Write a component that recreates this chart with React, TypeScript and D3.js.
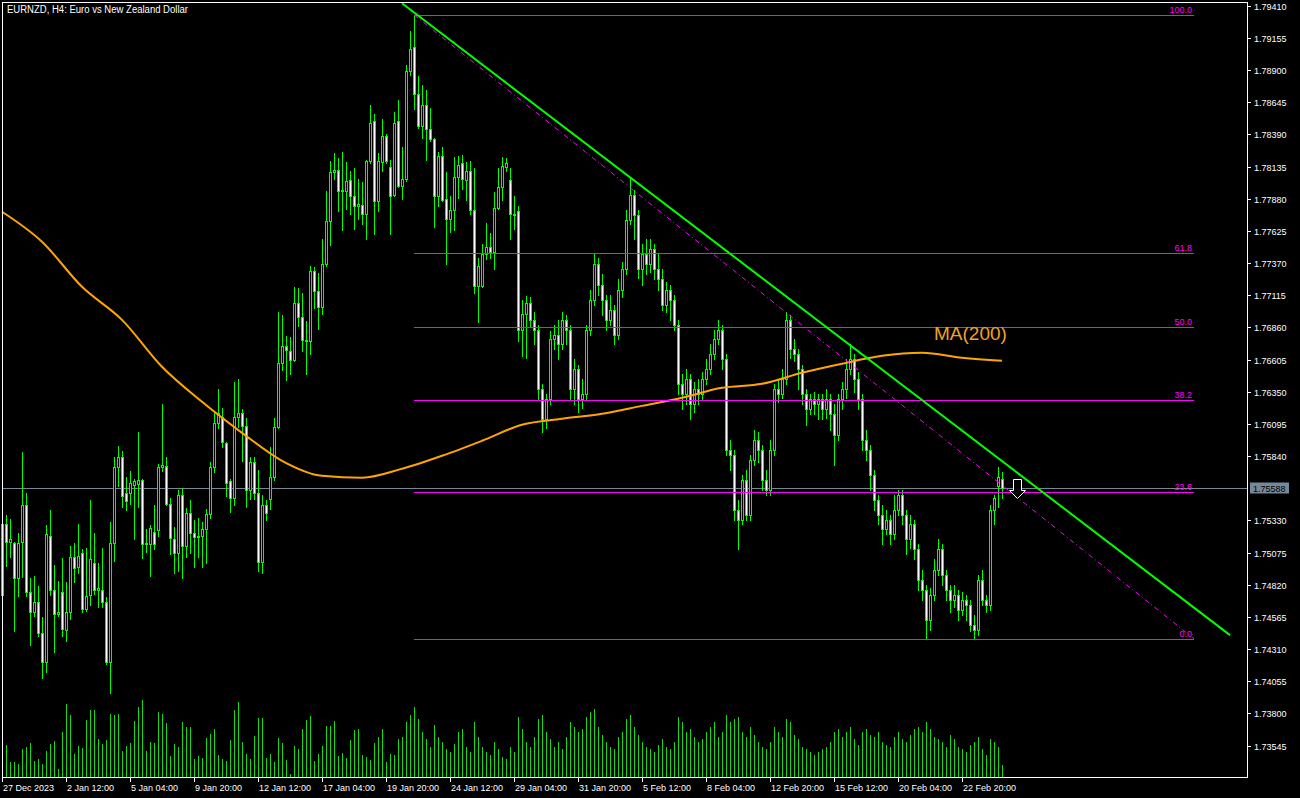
import React, { useEffect, useRef } from "react";
import * as d3 from "d3";

const title = "EURNZD, H4:  Euro vs New Zealand Dollar";
const bid = 1.75588;

const priceTicks = [
  1.7941, 1.79155, 1.789, 1.78645, 1.7839, 1.78135, 1.7788, 1.77625, 1.7737, 1.77115, 1.7686, 1.76605,
  1.7635, 1.76095, 1.7584, 1.7533, 1.75075, 1.7482, 1.74565, 1.7431, 1.74055, 1.738, 1.73545,
];

const timeLabels: [number, string][] = [
  [0, "27 Dec 2023"], [16, "2 Jan 12:00"], [32, "5 Jan 04:00"], [48, "9 Jan 20:00"],
  [64, "12 Jan 12:00"], [80, "17 Jan 04:00"], [96, "19 Jan 20:00"], [112, "24 Jan 12:00"],
  [128, "29 Jan 04:00"], [144, "31 Jan 20:00"], [160, "5 Feb 12:00"], [176, "8 Feb 04:00"],
  [192, "12 Feb 20:00"], [208, "15 Feb 12:00"], [224, "20 Feb 04:00"], [240, "22 Feb 20:00"],
];

// open, high, low, close
const ohlc: [number, number, number, number][] = [
  [1.7474, 1.7533, 1.747, 1.753], [1.753, 1.7537, 1.7497, 1.7516], [1.7516, 1.7534, 1.7504, 1.7518],
  [1.7515, 1.7516, 1.7445, 1.7487], [1.7487, 1.7523, 1.7473, 1.7515], [1.7516, 1.7587, 1.7488, 1.7545],
  [1.7545, 1.7555, 1.7473, 1.7476], [1.7476, 1.7487, 1.7434, 1.746], [1.746, 1.7489, 1.7457, 1.7468],
  [1.7468, 1.7481, 1.7441, 1.7444], [1.7444, 1.7456, 1.7408, 1.7421], [1.7421, 1.7529, 1.7413, 1.7522],
  [1.7521, 1.7541, 1.7474, 1.7478], [1.7478, 1.7498, 1.7429, 1.7459], [1.7459, 1.7485, 1.7457, 1.746],
  [1.7476, 1.7503, 1.7441, 1.7447], [1.7446, 1.7484, 1.7437, 1.746], [1.746, 1.7513, 1.7455, 1.7504],
  [1.7504, 1.7515, 1.7484, 1.7495], [1.7496, 1.753, 1.7491, 1.7505], [1.7507, 1.751, 1.746, 1.7463],
  [1.7463, 1.7511, 1.7461, 1.7473], [1.7474, 1.7549, 1.7466, 1.7502], [1.7499, 1.7523, 1.7475, 1.7478],
  [1.7478, 1.7499, 1.7464, 1.7479], [1.7478, 1.7511, 1.7464, 1.7468], [1.7468, 1.7472, 1.7419, 1.7421],
  [1.7421, 1.7532, 1.7396, 1.7515], [1.7515, 1.7583, 1.7501, 1.7575], [1.7575, 1.7592, 1.756, 1.7583],
  [1.7583, 1.7588, 1.7544, 1.7552], [1.7555, 1.7567, 1.7541, 1.7548], [1.7555, 1.7572, 1.7546, 1.7563],
  [1.7561, 1.7566, 1.7518, 1.7564], [1.7562, 1.7603, 1.7544, 1.7565], [1.7565, 1.7566, 1.7503, 1.7514],
  [1.7514, 1.7526, 1.7508, 1.7515], [1.7514, 1.7529, 1.7489, 1.7527], [1.7524, 1.7545, 1.751, 1.7514],
  [1.7525, 1.7578, 1.7521, 1.7575], [1.7575, 1.7625, 1.7572, 1.7577], [1.7576, 1.7583, 1.7545, 1.7546],
  [1.7546, 1.7551, 1.7506, 1.7519], [1.7518, 1.7528, 1.7491, 1.7507], [1.7507, 1.7557, 1.7493, 1.7553],
  [1.7553, 1.7559, 1.7487, 1.7513], [1.7513, 1.7543, 1.7504, 1.7539], [1.7539, 1.7549, 1.7507, 1.7523],
  [1.7523, 1.7533, 1.7496, 1.752], [1.752, 1.7535, 1.7504, 1.7521], [1.7521, 1.7532, 1.7496, 1.7526],
  [1.7526, 1.7542, 1.7499, 1.7538], [1.7538, 1.7579, 1.7535, 1.7575], [1.7575, 1.7619, 1.7571, 1.761],
  [1.761, 1.7637, 1.7606, 1.7618], [1.7615, 1.7622, 1.7591, 1.7595], [1.7594, 1.7595, 1.7552, 1.7563],
  [1.7564, 1.7566, 1.754, 1.7551], [1.7551, 1.7643, 1.7545, 1.7615], [1.7615, 1.7645, 1.7607, 1.7618],
  [1.7618, 1.7621, 1.758, 1.7608], [1.7608, 1.7614, 1.7544, 1.7557], [1.7557, 1.7583, 1.755, 1.7579],
  [1.7579, 1.7583, 1.755, 1.7555], [1.7555, 1.7573, 1.7493, 1.75], [1.75, 1.7553, 1.7491, 1.7545],
  [1.7545, 1.7549, 1.7533, 1.7539], [1.755, 1.7591, 1.7542, 1.7567], [1.7567, 1.7614, 1.7565, 1.7607],
  [1.7607, 1.7698, 1.7606, 1.7658], [1.7658, 1.7696, 1.7652, 1.7671], [1.7671, 1.7679, 1.7644, 1.7668],
  [1.7667, 1.7678, 1.7649, 1.766], [1.766, 1.7718, 1.7659, 1.7705], [1.7705, 1.7717, 1.7687, 1.7694],
  [1.7694, 1.7713, 1.7667, 1.7676], [1.7676, 1.7691, 1.7649, 1.7675], [1.7675, 1.7735, 1.7665, 1.7731],
  [1.7731, 1.7734, 1.7701, 1.7715], [1.7715, 1.7729, 1.7685, 1.7702], [1.7702, 1.7756, 1.7697, 1.7736],
  [1.7736, 1.7794, 1.7735, 1.777], [1.777, 1.7818, 1.7751, 1.7809], [1.7809, 1.7824, 1.7804, 1.7811],
  [1.7811, 1.782, 1.7778, 1.7794], [1.7794, 1.7825, 1.7763, 1.7795], [1.7794, 1.7817, 1.778, 1.7802],
  [1.7803, 1.781, 1.7776, 1.779], [1.779, 1.7812, 1.7764, 1.7782], [1.7782, 1.7804, 1.7772, 1.7784],
  [1.7783, 1.7801, 1.7768, 1.7776], [1.7776, 1.7819, 1.7756, 1.7818], [1.7818, 1.7862, 1.7816, 1.7848],
  [1.785, 1.7855, 1.776, 1.7786], [1.7786, 1.7824, 1.7778, 1.7818], [1.7817, 1.7851, 1.781, 1.7838],
  [1.7838, 1.7839, 1.7816, 1.7818], [1.7813, 1.7819, 1.776, 1.779], [1.7791, 1.7857, 1.779, 1.7848],
  [1.785, 1.7866, 1.7797, 1.7798], [1.7798, 1.7829, 1.7788, 1.7804], [1.7804, 1.7894, 1.7802, 1.7889],
  [1.7889, 1.7921, 1.7886, 1.7907], [1.7908, 1.7934, 1.7859, 1.7871], [1.7871, 1.7885, 1.7844, 1.7846],
  [1.7846, 1.7878, 1.7836, 1.7862], [1.7862, 1.7874, 1.7819, 1.7843], [1.7843, 1.786, 1.7834, 1.7835],
  [1.7835, 1.7836, 1.7766, 1.779], [1.779, 1.7825, 1.7782, 1.7822], [1.7822, 1.7829, 1.7786, 1.7787],
  [1.7788, 1.7809, 1.7736, 1.7772], [1.7772, 1.779, 1.7762, 1.7779], [1.7779, 1.7821, 1.7763, 1.7805],
  [1.7805, 1.7822, 1.7789, 1.7815], [1.7816, 1.7823, 1.7796, 1.7804], [1.7803, 1.7817, 1.7787, 1.781],
  [1.781, 1.7818, 1.7776, 1.7779], [1.7779, 1.7812, 1.7713, 1.7719], [1.7719, 1.7741, 1.769, 1.7735],
  [1.7719, 1.7752, 1.7718, 1.7744], [1.7744, 1.7769, 1.774, 1.775], [1.775, 1.7761, 1.7741, 1.7746],
  [1.7746, 1.7793, 1.7732, 1.7781], [1.7781, 1.7812, 1.778, 1.7797], [1.7797, 1.7821, 1.7787, 1.7814],
  [1.7813, 1.782, 1.781, 1.7816], [1.7803, 1.7812, 1.7756, 1.7776], [1.7776, 1.779, 1.7764, 1.7775],
  [1.7778, 1.7782, 1.7675, 1.7684], [1.7684, 1.7708, 1.7663, 1.7697], [1.7697, 1.7711, 1.7662, 1.7705],
  [1.7705, 1.771, 1.7686, 1.7692], [1.7692, 1.7698, 1.7673, 1.7684], [1.7684, 1.7688, 1.7629, 1.7637],
  [1.7637, 1.7641, 1.7603, 1.7613], [1.7613, 1.7633, 1.7606, 1.7629], [1.7629, 1.7683, 1.7625, 1.7677],
  [1.7677, 1.7688, 1.7669, 1.768], [1.768, 1.7692, 1.7661, 1.7673], [1.7673, 1.7698, 1.7669, 1.7692],
  [1.7692, 1.7696, 1.7673, 1.7684], [1.7684, 1.7688, 1.7629, 1.7637], [1.7637, 1.7661, 1.7625, 1.7653],
  [1.7653, 1.7656, 1.7619, 1.7629], [1.7629, 1.7645, 1.7622, 1.7633], [1.7633, 1.7688, 1.7629, 1.7684],
  [1.7684, 1.7716, 1.768, 1.7708], [1.7708, 1.7744, 1.7704, 1.7736], [1.7736, 1.7741, 1.7712, 1.772],
  [1.772, 1.7728, 1.7696, 1.7708], [1.7708, 1.7712, 1.7684, 1.7692], [1.7692, 1.7712, 1.7688, 1.77],
  [1.77, 1.7704, 1.7673, 1.768], [1.768, 1.7724, 1.7677, 1.7716], [1.7716, 1.7738, 1.771, 1.7732],
  [1.7732, 1.7779, 1.7728, 1.7771], [1.7771, 1.7805, 1.7768, 1.7791], [1.7791, 1.7795, 1.7756, 1.7775],
  [1.7775, 1.7779, 1.7725, 1.7732], [1.7732, 1.7752, 1.772, 1.7744], [1.7744, 1.7756, 1.7728, 1.7736],
  [1.7736, 1.7756, 1.773, 1.7748], [1.7748, 1.7752, 1.7724, 1.7732], [1.7732, 1.7744, 1.7716, 1.7724],
  [1.7724, 1.7732, 1.77, 1.7704], [1.7704, 1.7722, 1.7698, 1.7716], [1.7716, 1.772, 1.7692, 1.7708],
  [1.7708, 1.7712, 1.7684, 1.7688], [1.7688, 1.7692, 1.7633, 1.7641], [1.7641, 1.7649, 1.7621, 1.7633],
  [1.7633, 1.7653, 1.7625, 1.7645], [1.7645, 1.7649, 1.7613, 1.7625], [1.7625, 1.7643, 1.7619, 1.7637],
  [1.7637, 1.7645, 1.7625, 1.7633], [1.7633, 1.7651, 1.7629, 1.7645], [1.7645, 1.7661, 1.7641, 1.7653],
  [1.7653, 1.7673, 1.7649, 1.7665], [1.7665, 1.7684, 1.7661, 1.7677], [1.7677, 1.7692, 1.7673, 1.7684],
  [1.7684, 1.7688, 1.7653, 1.7661], [1.7661, 1.7665, 1.7585, 1.7589], [1.7589, 1.7597, 1.7573, 1.7585],
  [1.7585, 1.7589, 1.7533, 1.7541], [1.7541, 1.7549, 1.751, 1.7533], [1.7533, 1.7569, 1.753, 1.7565],
  [1.7565, 1.7573, 1.7533, 1.7537], [1.7537, 1.7585, 1.7533, 1.7581], [1.7581, 1.7605, 1.7577, 1.7597],
  [1.7597, 1.7603, 1.7579, 1.7589], [1.7589, 1.7593, 1.7557, 1.7565], [1.7565, 1.7573, 1.7553, 1.7557],
  [1.7557, 1.7597, 1.7553, 1.7589], [1.7589, 1.7641, 1.7585, 1.7637], [1.7637, 1.7645, 1.7627, 1.7633],
  [1.7633, 1.7653, 1.763, 1.7645], [1.7645, 1.7698, 1.7641, 1.7692], [1.7692, 1.7696, 1.7662, 1.7669],
  [1.7669, 1.7677, 1.7659, 1.7665], [1.7665, 1.7669, 1.7637, 1.7653], [1.7653, 1.7656, 1.7625, 1.7633],
  [1.7633, 1.7637, 1.7609, 1.7621], [1.7621, 1.7633, 1.7617, 1.7629], [1.7629, 1.7635, 1.7617, 1.7625],
  [1.7625, 1.7633, 1.7613, 1.7629], [1.7629, 1.7633, 1.7613, 1.7621], [1.7621, 1.7637, 1.7614, 1.7629],
  [1.7629, 1.7633, 1.7605, 1.7617], [1.7617, 1.7625, 1.7577, 1.7601], [1.7601, 1.7633, 1.7597, 1.7629],
  [1.7629, 1.7643, 1.7621, 1.7637], [1.7637, 1.7661, 1.763, 1.7653], [1.7653, 1.7673, 1.7649, 1.7661],
  [1.7661, 1.7665, 1.7635, 1.7645], [1.7645, 1.7651, 1.7621, 1.7629], [1.7629, 1.7633, 1.7589, 1.7597],
  [1.7597, 1.7605, 1.7581, 1.7589], [1.7589, 1.7593, 1.7557, 1.7569], [1.7569, 1.7573, 1.7541, 1.7549],
  [1.7549, 1.7553, 1.753, 1.7537], [1.7537, 1.7545, 1.7514, 1.7526], [1.7526, 1.7541, 1.7522, 1.7533],
  [1.7533, 1.7537, 1.7514, 1.7522], [1.7522, 1.7553, 1.7518, 1.7541], [1.7541, 1.7557, 1.7537, 1.7553],
  [1.7553, 1.7557, 1.753, 1.7537], [1.7537, 1.7541, 1.7506, 1.7518], [1.7518, 1.7537, 1.7511, 1.753],
  [1.753, 1.7533, 1.7502, 1.751], [1.751, 1.7514, 1.7478, 1.7486], [1.7486, 1.7494, 1.747, 1.7478],
  [1.7478, 1.7482, 1.7439, 1.7454], [1.7454, 1.7479, 1.7446, 1.7474], [1.7474, 1.7502, 1.747, 1.7494],
  [1.7494, 1.7518, 1.749, 1.751], [1.751, 1.7514, 1.7482, 1.749], [1.749, 1.7494, 1.747, 1.7478],
  [1.7478, 1.7482, 1.746, 1.747], [1.747, 1.7482, 1.7464, 1.7474], [1.7474, 1.7478, 1.7454, 1.7462],
  [1.7462, 1.7476, 1.7458, 1.747], [1.747, 1.7474, 1.7454, 1.7466], [1.7466, 1.747, 1.7445, 1.745],
  [1.745, 1.7458, 1.744, 1.7446], [1.7446, 1.749, 1.7442, 1.7486], [1.7486, 1.7494, 1.7466, 1.747],
  [1.747, 1.7474, 1.746, 1.7466], [1.7466, 1.7545, 1.7462, 1.7541], [1.7541, 1.7553, 1.753, 1.7551],
  [1.756, 1.7575, 1.7544, 1.7567], [1.7566, 1.7571, 1.7551, 1.7559],
];

// tick volume, hundreds
const volumes = [
  30, 32, 15, 15, 13, 28, 30, 34, 16, 18, 13, 26, 33, 36, 8, 45, 73, 62, 23, 31, 29, 57, 67, 67, 38,
  33, 37, 63, 62, 63, 26, 31, 34, 56, 70, 77, 26, 35, 34, 65, 63, 54, 21, 33, 30, 55, 50, 50, 18, 21,
  19, 39, 43, 48, 22, 18, 16, 37, 67, 75, 35, 23, 18, 41, 59, 59, 19, 23, 15, 39, 34, 17, 3, 31, 28,
  48, 57, 61, 16, 23, 31, 51, 51, 56, 21, 24, 19, 37, 47, 48, 22, 20, 17, 34, 40, 48, 15, 23, 22, 38,
  40, 55, 62, 70, 58, 45, 38, 30, 52, 40, 35, 28, 25, 33, 45, 48, 30, 25, 55, 40,
  30, 25, 22, 35, 28, 20, 18, 30, 25, 60, 48, 35, 30, 40, 58, 62, 45, 38, 30, 35,
  28, 40, 55, 50, 45, 48, 60, 65, 68, 50, 42, 35, 30, 28, 40, 45, 58, 62, 50, 42,
  35, 30, 28, 25, 32, 38, 30, 28, 35, 60, 55, 45, 48, 40, 35, 38, 45, 50, 55, 40,
  45, 62, 55, 58, 60, 45, 40, 50, 42, 35, 30, 28, 35, 50, 45, 40, 58, 55, 42, 38,
  30, 28, 25, 22, 25, 28, 30, 35, 45, 48, 40, 45, 50, 38, 32, 45, 48, 42, 40, 45,
  35, 32, 30, 40, 45, 38, 35, 42, 48, 50, 45, 55, 48, 40, 38, 35, 30, 42, 38, 30,
  28, 25, 32, 35, 40, 28, 22, 38, 35, 30, 12,
];

// MA(200) read every 10 bars
const ma200: [number, number][] = [
  [0, 1.77777], [10, 1.77539], [20, 1.77182], [30, 1.7692], [40, 1.76548], [50, 1.7627], [60, 1.76024],
  [70, 1.75802], [80, 1.75683], [90, 1.75668], [100, 1.75739], [110, 1.75842], [120, 1.75961],
  [130, 1.76088], [140, 1.76135], [150, 1.76175], [160, 1.76238], [170, 1.76302], [180, 1.76381],
  [190, 1.76413], [200, 1.765], [210, 1.76572], [220, 1.76635], [230, 1.76659], [240, 1.76619],
  [250, 1.76595],
];

const fibRatios = [100, 61.8, 50, 38.2, 23.6, 0];
const fibHigh: [number, number] = [103, 1.79339];
const fibLow: [number, number] = [298, 1.74391];
const trendLine: [number, number][] = [[100, 1.7943], [307, 1.7442]];
const arrowAnchor: [number, number] = [254, 1.7566];

const W = 1300;
const H = 798;
const plotLeft = 2;
const plotRight = 1247;
const plotTop = 2;
const plotBottom = 777;
const font = "'Liberation Sans', Arial, sans-serif";
const lime = "#00ff00";

const App = () => {
  const ref = useRef<SVGSVGElement | null>(null);

  useEffect(() => {
    const svg = d3.select(ref.current!);
    svg.selectAll("*").remove();

    const x = d3.scaleLinear().domain([0, 250]).range([2, 1002]);
    const y = d3.scaleLinear().domain([1.7941, 1.73545]).range([5.8, 745.5]);
    const yVol = d3.scaleLinear().domain([0, 87]).range([plotBottom, 690]);
    const px = (v: number) => Math.round(v) + 0.5;

    svg.append("rect").attr("width", W).attr("height", H).attr("fill", "#000");

    svg.append("defs").append("clipPath").attr("id", "plotClip")
      .append("rect").attr("x", 0).attr("y", plotTop).attr("width", plotRight).attr("height", plotBottom - plotTop);

    const plot = svg.append("g").attr("clip-path", "url(#plotClip)");

    // volumes
    plot.append("g").selectAll("line").data(volumes).join("line")
      .attr("x1", (_, i) => px(x(i))).attr("x2", (_, i) => px(x(i)))
      .attr("y1", plotBottom).attr("y2", (d) => Math.round(yVol(d)))
      .attr("stroke", "#16d916").attr("stroke-width", 1);

    // bid line
    plot.append("line").attr("x1", plotLeft).attr("x2", plotRight)
      .attr("y1", px(y(bid))).attr("y2", px(y(bid)))
      .attr("stroke", "#778899");

    // candles
    const cg = plot.append("g");
    ohlc.forEach(([o, h, l, c], i) => {
      const cx = px(x(i));
      cg.append("line").attr("x1", cx).attr("x2", cx)
        .attr("y1", Math.round(y(h))).attr("y2", Math.round(y(l)) + 1)
        .attr("stroke", lime);
      const yt = Math.round(y(Math.max(o, c)));
      const yb = Math.round(y(Math.min(o, c)));
      if (yb - yt < 1) {
        cg.append("line").attr("x1", cx - 1.5).attr("x2", cx + 1.5)
          .attr("y1", yt + 0.5).attr("y2", yt + 0.5).attr("stroke", lime);
      } else {
        cg.append("rect").attr("x", cx - 1).attr("y", yt + 0.5)
          .attr("width", 2).attr("height", yb - yt)
          .attr("fill", c < o ? "#ffffff" : "#000000").attr("stroke", lime);
      }
    });

    // moving average
    plot.append("path").datum(ma200)
      .attr("d", d3.line<[number, number]>().x((d) => x(d[0])).y((d) => y(d[1])).curve(d3.curveMonotoneX))
      .attr("fill", "none").attr("stroke", "#ffa500").attr("stroke-width", 2);

    // fibonacci
    const fx1 = x(fibHigh[0]);
    const fx2 = x(fibLow[0]);
    const fibScale = d3.scaleLinear().domain([0, 100]).range([fibLow[1], fibHigh[1]]);
    fibRatios.forEach((r) => {
      const ly = px(y(fibScale(r)));
      plot.append("line").attr("x1", fx1).attr("x2", fx2).attr("y1", ly).attr("y2", ly)
        .attr("stroke", "#ff00ff");
      plot.append("text").attr("x", fx2 - 2).attr("y", ly - 3).attr("text-anchor", "end")
        .attr("font-family", font).attr("font-size", 9).attr("fill", "#ff00ff")
        .text(r.toFixed(1));
    });
    plot.append("line").attr("x1", fx1).attr("y1", y(fibHigh[1])).attr("x2", fx2).attr("y2", y(fibLow[1]))
      .attr("stroke", "#ff00ff").attr("stroke-dasharray", "5,3,1,3");

    // trend line
    plot.append("line")
      .attr("x1", x(trendLine[0][0])).attr("y1", y(trendLine[0][1]))
      .attr("x2", x(trendLine[1][0])).attr("y2", y(trendLine[1][1]))
      .attr("stroke", lime).attr("stroke-width", 2);

    // MA label
    plot.append("text").attr("x", 934).attr("y", 340)
      .attr("font-family", font).attr("font-size", 19).attr("fill", "#f0a028")
      .text("MA(200)");

    // arrow
    const ax = x(arrowAnchor[0]) - 0.5;
    const ay = Math.round(y(arrowAnchor[1])) + 0.5;
    const arrow: [number, number][] = [
      [ax - 4, ay], [ax + 4, ay], [ax + 4, ay + 11], [ax + 8, ay + 11],
      [ax, ay + 19], [ax - 8, ay + 11], [ax - 4, ay + 11],
    ];
    plot.append("polygon").attr("points", arrow.map((p) => p.join(",")).join(" "))
      .attr("fill", "#000").attr("stroke", "#ffffff");

    // frame
    const frame = svg.append("g").attr("stroke", "#ffffff").attr("stroke-width", 1);
    frame.append("line").attr("x1", plotLeft + 0.5).attr("x2", plotLeft + 0.5).attr("y1", plotTop).attr("y2", plotBottom + 1);
    frame.append("line").attr("x1", plotRight + 0.5).attr("x2", plotRight + 0.5).attr("y1", plotTop).attr("y2", plotBottom + 1);
    frame.append("line").attr("x1", plotLeft).attr("x2", plotRight + 1).attr("y1", plotTop + 0.5).attr("y2", plotTop + 0.5);
    frame.append("line").attr("x1", plotLeft).attr("x2", plotRight + 1).attr("y1", plotBottom + 0.5).attr("y2", plotBottom + 0.5);

    // title
    svg.append("text").attr("x", 7).attr("y", 13)
      .attr("font-family", font).attr("font-size", 10).attr("fill", "#ffffff")
      .attr("textLength", 181).attr("lengthAdjust", "spacingAndGlyphs")
      .text(title);

    // price axis
    const pa = svg.append("g");
    priceTicks.forEach((p) => {
      const ty = px(y(p));
      pa.append("line").attr("x1", plotRight + 1).attr("x2", plotRight + 4).attr("y1", ty).attr("y2", ty)
        .attr("stroke", "#ffffff");
      pa.append("text").attr("x", 1254).attr("y", ty + 3.5)
        .attr("font-family", font).attr("font-size", 9).attr("fill", "#ffffff")
        .text(p.toFixed(5));
    });
    const by = px(y(bid));
    pa.append("rect").attr("x", 1250).attr("y", by - 6).attr("width", 39).attr("height", 11).attr("fill", "#778899");
    pa.append("text").attr("x", 1253).attr("y", by + 3.5)
      .attr("font-family", font).attr("font-size", 9).attr("fill", "#000000")
      .text(bid.toFixed(5));

    // time axis
    const ta = svg.append("g");
    timeLabels.forEach(([b, label]) => {
      const tx = px(x(b));
      ta.append("line").attr("x1", tx).attr("x2", tx).attr("y1", plotBottom + 1).attr("y2", plotBottom + 5)
        .attr("stroke", "#ffffff");
      ta.append("text").attr("x", tx + 0.5).attr("y", 791)
        .attr("font-family", font).attr("font-size", 9).attr("fill", "#ffffff")
        .text(label);
    });
  }, []);

  return (
    <div style={{ position: "fixed", left: 0, top: 0 }}>
      <svg ref={ref} width={W} height={H} />
    </div>
  );
};

export default App;
